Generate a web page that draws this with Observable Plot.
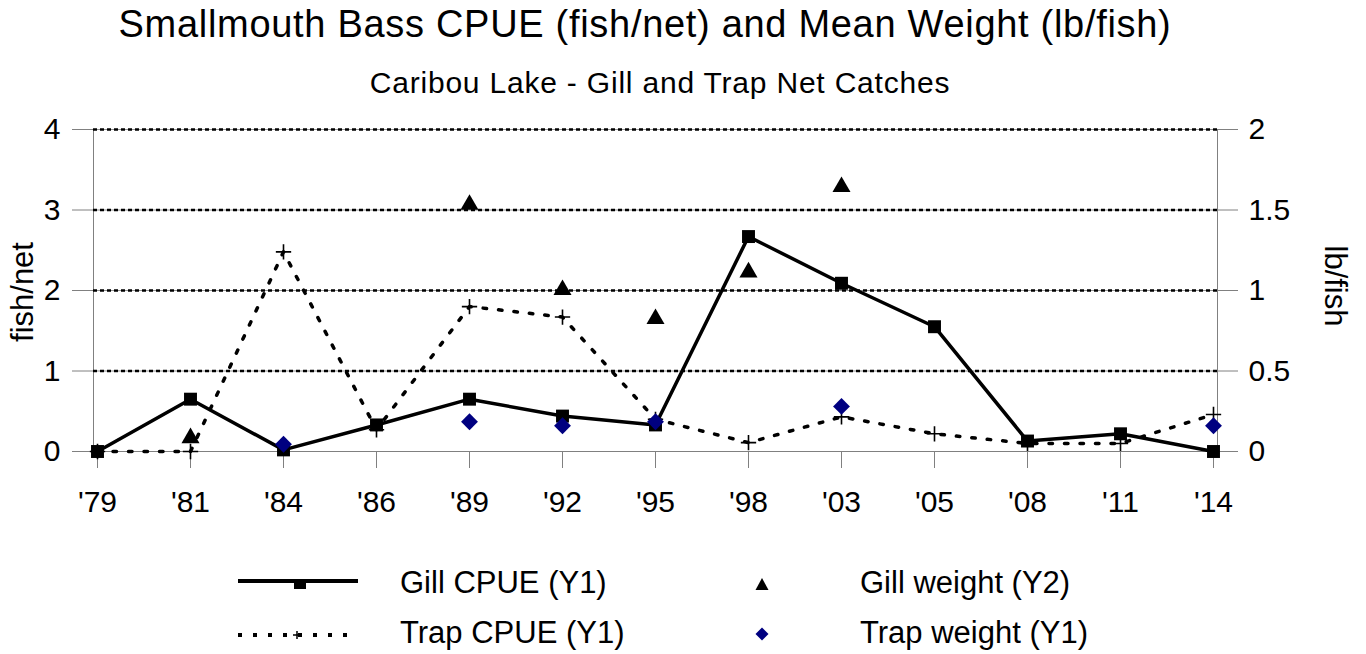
<!DOCTYPE html>
<html><head><meta charset="utf-8">
<script src="https://cdn.jsdelivr.net/npm/d3@7"></script>
<script src="https://cdn.jsdelivr.net/npm/@observablehq/plot@0.6"></script>
<style>
body{margin:0;background:#fff;font-family:"Liberation Sans",Arial,sans-serif;}
#wrap{position:relative;width:1366px;height:654px;overflow:hidden;background:#fff;}
.t{position:absolute;white-space:nowrap;line-height:1;color:#000;}
#chart{position:absolute;left:0;top:0;}
.sw{position:absolute;overflow:visible;}
</style></head><body><div id="wrap"><div id="chart"></div></div>
<script>
// ---- data ----
const years = ["'79","'81","'84","'86","'89","'92","'95","'98","'03","'05","'08","'11","'14"];
const gillCPUE = [0, 0.65, 0.02, 0.33, 0.65, 0.44, 0.33, 2.67, 2.09, 1.55, 0.13, 0.22, 0];
const trapCPUE = [0, 0, 2.48, 0.27, 1.8, 1.67, 0.4, 0.11, 0.43, 0.22, 0.1, 0.1, 0.46];
const gillWeight = [null, 0.1, null, null, 1.55, 1.02, 0.84, 1.13, 1.66, null, null, null, null];
const trapWeight = [null, null, 0.09, null, 0.37, 0.32, 0.37, null, 0.56, null, null, null, 0.32];
const y1Ticks = [0, 1, 2, 3, 4];
const y2Ticks = [0, 0.5, 1, 1.5, 2];
const titleText = "Smallmouth Bass CPUE (fish/net) and Mean Weight (lb/fish)";
const subtitleText = "Caribou Lake - Gill and Trap Net Catches";
const y1Label = "fish/net";
const y2Label = "lb/fish";
const seriesNames = ["Gill CPUE (Y1)", "Trap CPUE (Y1)", "Gill weight (Y2)", "Trap weight (Y1)"];

// ---- build ----
const ratio = y1Ticks[y1Ticks.length - 1] / y2Ticks[y2Ticks.length - 1];
const data = years.map((yr, i) => ({yr, gill: gillCPUE[i], trap: trapCPUE[i], gw: gillWeight[i], tw: trapWeight[i]}));
const FONT = "'Liberation Sans', Arial, sans-serif";

const chart = Plot.plot({
  width: 1366, height: 540,
  marginLeft: 93, marginRight: 149, marginTop: 129, marginBottom: 89,
  style: {fontFamily: FONT, fontSize: "30px", background: "transparent", overflow: "visible", color: "black"},
  x: {type: "point", domain: years, padding: 0, label: null},
  y: {domain: [y1Ticks[0], y1Ticks[y1Ticks.length - 1]], label: null},
  marks: [
    Plot.frame({stroke: "#808080", strokeWidth: 1}),
    Plot.ruleY(y1Ticks.slice(1), {stroke: "#909090", strokeWidth: 1}),
    Plot.ruleY(y1Ticks.slice(1), {stroke: "black", strokeWidth: 2.5, strokeDasharray: "4,3"}),
    Plot.axisY({ticks: y1Ticks, tickSize: 21, tickPadding: 12, stroke: "#808080", fill: "black", fontSize: 30, label: null, tickFormat: d => String(d)}),
    Plot.axisY({anchor: "right", ticks: y2Ticks.map(v => v * ratio), tickFormat: d => String(d / ratio), tickSize: 20, tickPadding: 11, stroke: "#808080", fill: "black", fontSize: 30, label: null}),
    Plot.axisX({tickSize: 17, tickPadding: 22, stroke: "#808080", fill: "black", fontSize: 30, label: null}),
    Plot.line(data, {x: "yr", y: "gill", stroke: "black", strokeWidth: 3.5}),
    Plot.dot(data, {x: "yr", y: "gill", symbol: "square", fill: "black", r: 7.3}),
    Plot.line(data, {x: "yr", y: "trap", stroke: "black", strokeWidth: 3.5, strokeDasharray: "3.5,12"}),
    Plot.dot(data, {x: "yr", y: "trap", symbol: "plus", stroke: "black", strokeWidth: 1.6, r: 5}),
    Plot.dot(data.filter(d => d.gw != null), {x: "yr", y: d => d.gw * ratio, symbol: "triangle", fill: "black", r: 6.7, dy: 2.6}),
    Plot.dot(data.filter(d => d.tw != null), {x: "yr", y: "tw", symbol: "diamond2", fill: "#000080", r: 7.6})
  ]
});
document.getElementById("chart").appendChild(chart);

const wrap = document.getElementById("wrap");
function addText(txt, css) {
  const d = document.createElement("div");
  d.className = "t";
  d.textContent = txt;
  Object.assign(d.style, css);
  wrap.appendChild(d);
  return d;
}
// title & subtitle
addText(titleText, {left: "0px", width: "1290px", textAlign: "center", top: "5px", fontSize: "38px", letterSpacing: "0.7px"});
addText(subtitleText, {left: "0px", width: "1320px", textAlign: "center", top: "68px", fontSize: "30px", letterSpacing: "0.8px"});
// axis titles
addText(y1Label, {left: "22px", top: "292px", fontSize: "31px", transform: "translate(-50%,-50%) rotate(-90deg)"});
addText(y2Label, {left: "1335px", top: "286px", fontSize: "31px", transform: "translate(-50%,-50%) rotate(90deg)"});

// legend
function addSwatch(left, top, w, h, inner) {
  const ns = "http://www.w3.org/2000/svg";
  const s = document.createElementNS(ns, "svg");
  s.setAttribute("class", "sw");
  s.setAttribute("width", w); s.setAttribute("height", h);
  s.style.left = left + "px"; s.style.top = top + "px";
  s.innerHTML = inner;
  wrap.appendChild(s);
}
addSwatch(238, 571, 120, 20, '<line x1="0" y1="10" x2="120" y2="10" stroke="black" stroke-width="4"/><rect x="56" y="9" width="12" height="9" fill="black"/>');
addSwatch(238, 625, 120, 20, '<line x1="0" y1="10" x2="120" y2="10" stroke="black" stroke-width="4" stroke-dasharray="4,11"/><path d="M59,6V14M55,10H63" stroke="black" stroke-width="1.5"/>');
addSwatch(755, 577, 14, 14, '<path d="M7,1L13.5,13H0.5Z" fill="black"/>');
addSwatch(755, 627, 14, 14, '<path d="M7,0.5L13.5,7L7,13.5L0.5,7Z" fill="#000080"/>');
addText(seriesNames[0], {left: "400px", top: "567px", fontSize: "31px"});
addText(seriesNames[1], {left: "400px", top: "617px", fontSize: "31px"});
addText(seriesNames[2], {left: "860px", top: "567px", fontSize: "31px"});
addText(seriesNames[3], {left: "860px", top: "617px", fontSize: "31px"});
</script></body></html>
